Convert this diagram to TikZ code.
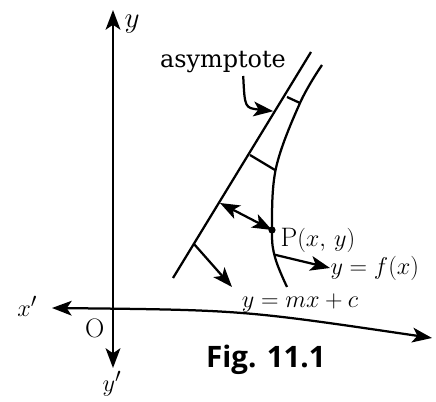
\documentclass[tikz,border=0pt]{standalone}
\usepackage{fontspec}
\newfontfamily\figfont{Open Sans}
\newfontfamily\txtfont{DejaVu Serif}
\usetikzlibrary{arrows.meta}
\tikzset{
  >={Stealth[length=14pt,width=10.5pt,inset=3.5pt]},
  lbl/.style={font=\fontsize{19}{22}\selectfont, inner sep=1pt},
}
\begin{document}
\begin{tikzpicture}[scale=1.0, line width=1.6pt]
\useasboundingbox (0,0) rectangle (10.9,10.05);
% axes
\coordinate (ytop) at (2.825,9.8);
\coordinate (ybot) at (2.825,0.85);
\coordinate (xl) at (1.3,2.35);
\coordinate (xr) at (10.8,1.6);
\draw[<->] (ybot) -- (ytop);
\draw[<->] (xl) .. controls (6.05,2.3) .. (xr);
\node[lbl, font=\fontsize{21}{24}\selectfont] (ylab) at (3.3,9.45) {$y$};
\node[lbl] (yplab) at (2.8,0.45) {$y'$};
\node[lbl] (xplab) at (0.68,2.4) {$x'$};
\node[lbl] (olab) at (2.37,1.85) {O};
% asymptote and curve
\coordinate (a1) at (7.775,8.75);
\coordinate (a2) at (4.325,3.1);
\draw (a1) -- (a2);
\coordinate (P) at (6.8,4.3);
\draw plot[smooth, tension=0.6] coordinates {(8.05,8.425) (7.5,7.475) (6.9,5.85) (6.8,4.3) (6.88,3.6) (7.175,2.875)};
\coordinate (t1a) at (7.175,7.625);
\coordinate (t1b) at (7.5,7.475);
\coordinate (t2a) at (6.25,6.175);
\coordinate (t2b) at (6.875,5.8);
\draw (t1a) -- (t1b);
\draw (t2a) -- (t2b);
\fill (P) circle (0.09);
\coordinate (d1) at (5.5,4.975);
\draw[<->] (d1) -- (P);
\node[lbl, anchor=west] (plab) at (6.95,4.05) {P$(x,\,y)$};
% labels with arrows
\coordinate (m1) at (4.85,3.95);
\coordinate (m2) at (5.8,2.875);
\draw[->] (m1) -- (m2);
\node[lbl] (mlab) at (7.5,2.47) {$y = mx + c$};
\coordinate (f1) at (6.875,3.68);
\coordinate (f2) at (8.25,3.35);
\draw[->] (f1) -- (f2);
\node[lbl, anchor=west] (flab) at (8.2,3.35) {$y = f(x)$};
\node[lbl, font=\txtfont\fontsize{17}{20}\selectfont] (alab) at (5.575,8.5) {asymptote};
\coordinate (s1) at (6.08,8.15);
\coordinate (s2) at (6.83,7.27);
\draw[->] (s1) .. controls (6.12,7.35) .. (s2);
\node[font=\figfont\bfseries\fontsize{21}{25}\selectfont] (fig) at (6.65,1.05) {Fig. 11.1};
\end{tikzpicture}
\end{document}
